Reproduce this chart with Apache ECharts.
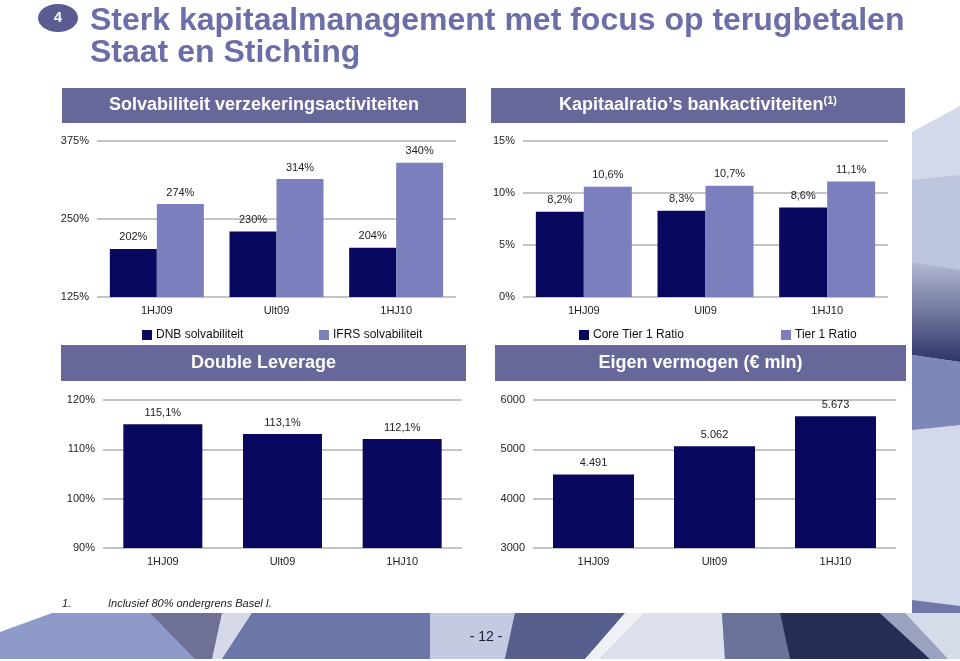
<!DOCTYPE html>
<html><head><meta charset="utf-8">
<script src="https://cdn.jsdelivr.net/npm/echarts@6/dist/echarts.min.js"></script>
<style>html,body{margin:0;padding:0;background:#fff;}#c{width:960px;height:661px;}</style>
</head><body><div id="c"></div>
<script>
const catsSolv = ['1HJ09', 'Ult09', '1HJ10'];
const catsBank = ['1HJ09', 'Ul09', '1HJ10'];
const catsLev = ['1HJ09', 'Ult09', '1HJ10'];
const catsEq = ['1HJ09', 'Ult09', '1HJ10'];
const dnbSolv = [202, 230, 204];
const ifrsSolv = [274, 314, 340];
const coreTier1 = [8.2, 8.3, 8.6];
const tier1 = [10.6, 10.7, 11.1];
const doubleLeverage = [115.1, 113.1, 112.1];
const equity = [4491, 5062, 5673];
const solvTicks = [125, 250, 375];
const bankTicks = [0, 5, 10, 15];
const levTicks = [90, 100, 110, 120];
const eqTicks = [3000, 4000, 5000, 6000];

const FONT = '"Liberation Sans", Arial, sans-serif';
const NAVY = '#08085e';
const LIGHT = '#7b7fbe';
const HEAD = '#67679a';

const pct0 = v => v + '%';
const pct1 = v => v.toFixed(1).replace('.', ',') + '%';
const thou = v => String(v).replace(/\B(?=(\d{3})+(?!\d))/g, '.');

function grid(l, t, w, h) { return { left: l, top: t, width: w, height: h, containLabel: false }; }
function xAx(i, cats) {
  return { type: 'category', gridIndex: i, data: cats,
    axisLine: { show: false }, axisTick: { show: false },
    axisLabel: { color: '#222', fontSize: 11, fontFamily: FONT, margin: 8 } };
}
function yAx(i, ticks, fmt) {
  return { type: 'value', gridIndex: i, min: ticks[0], max: ticks[ticks.length - 1],
    interval: ticks[1] - ticks[0],
    axisLine: { show: false }, axisTick: { show: false },
    axisLabel: { color: '#222', fontSize: 11, fontFamily: FONT, margin: 8, formatter: fmt },
    splitLine: { lineStyle: { color: '#c4c4c4', width: 2 } } };
}
function bar(name, i, data, color, width, fmt) {
  return { name, type: 'bar', xAxisIndex: i, yAxisIndex: i, data, barWidth: width, barGap: '0%',
    itemStyle: { color }, z: 3,
    label: { show: true, position: 'top', distance: 6, color: '#222', fontSize: 11, fontFamily: FONT, formatter: p => fmt(p.value) } };
}
function legend(name, left) {
  return { data: [name], left, top: 324, icon: 'rect', itemWidth: 10, itemHeight: 10, itemGap: 0,
    selectedMode: false, textStyle: { fontSize: 12, fontFamily: FONT, color: '#111', padding: [0, 0, 0, -1] } };
}
function header(x, y, w, h, text) {
  return [
    { type: 'rect', shape: { x, y, width: w, height: h }, style: { fill: HEAD }, z: 5 },
    { type: 'text', x: x + w / 2, y: y + h / 2, z: 6,
      style: { text, fill: '#fff', font: 'bold 18px ' + FONT, textAlign: 'center', textVerticalAlign: 'middle' } }
  ];
}
function poly(points, fill) { return { type: 'polygon', shape: { points }, style: { fill }, z: -10, silent: true }; }

const deco = [
  poly([[0, 632], [52, 613], [960, 613], [960, 659], [0, 659]], '#8e9bc8'),
  poly([[150, 613], [222, 613], [215, 659], [195, 659]], '#6e7094'),
  poly([[222, 613], [252, 613], [222, 659], [212, 659]], '#d6dae8'),
  poly([[252, 613], [430, 613], [430, 659], [222, 659]], '#6b76a9'),
  poly([[430, 613], [515, 613], [505, 659], [430, 659]], '#c3cae2'),
  poly([[515, 613], [625, 613], [585, 659], [505, 659]], '#565e8c'),
  poly([[625, 613], [645, 613], [600, 659], [585, 659]], '#eef0f6'),
  poly([[645, 613], [722, 613], [725, 659], [600, 659]], '#dde1ee'),
  poly([[722, 613], [780, 613], [790, 659], [725, 659]], '#6c7299'),
  poly([[780, 613], [880, 613], [930, 659], [790, 659]], '#262e58'),
  poly([[880, 613], [905, 613], [948, 659], [930, 659]], '#9aa2c0'),
  poly([[905, 613], [960, 613], [960, 659], [948, 659]], '#d6dbe9'),
  poly([[912, 132], [960, 106], [960, 613], [912, 613]], '#d3d9ea'),
  poly([[912, 180], [960, 175], [960, 270], [912, 262]], '#bcc4de'),
  { type: 'polygon', z: -10, silent: true, shape: { points: [[912, 262], [960, 270], [960, 362], [912, 355]] },
    style: { fill: new echarts.graphic.LinearGradient(0, 0, 0, 1, [{ offset: 0, color: '#b3b8d2' }, { offset: 1, color: '#2f356a' }]) } },
  poly([[912, 355], [960, 362], [960, 425], [912, 430]], '#7d87b8'),
  poly([[912, 600], [960, 606], [960, 613], [912, 613]], '#6f78a6')
];

const graphics = [
  ...deco,
  { type: 'ellipse', shape: { cx: 58, cy: 18, rx: 20, ry: 14 }, style: { fill: '#5b5b91' }, z: 5 },
  { type: 'text', x: 58, y: 18, z: 6, style: { text: '4', fill: '#fff', font: 'bold 15px ' + FONT, textAlign: 'center', textVerticalAlign: 'middle' } },
  { type: 'text', x: 90, y: 21, z: 6, style: { text: 'Sterk kapitaalmanagement met focus op terugbetalen', fill: '#6b6ea8', font: 'bold 32px ' + FONT, textVerticalAlign: 'middle' } },
  { type: 'text', x: 90, y: 53, z: 6, style: { text: 'Staat en Stichting', fill: '#6b6ea8', font: 'bold 32px ' + FONT, textVerticalAlign: 'middle' } },
  ...header(62, 88, 404, 35, 'Solvabiliteit verzekeringsactiviteiten'),
  { type: 'rect', shape: { x: 491, y: 88, width: 414, height: 35 }, style: { fill: HEAD }, z: 5 },
  { type: 'text', x: 698, y: 105, z: 6,
    style: { text: '{a|Kapitaalratio’s bankactiviteiten}{b|(1)}', textAlign: 'center', textVerticalAlign: 'middle',
      rich: { a: { fill: '#fff', font: 'bold 18px ' + FONT }, b: { fill: '#fff', font: 'bold 11px ' + FONT, padding: [0, 0, 9, 0] } } } },
  ...header(61, 345, 405, 36, 'Double Leverage'),
  ...header(495, 345, 411, 36, 'Eigen vermogen (€ mln)'),
  { type: 'text', x: 62, y: 604, z: 6, style: { text: '1.', fill: '#222', font: 'italic 11px ' + FONT, textVerticalAlign: 'middle' } },
  { type: 'text', x: 108, y: 604, z: 6, style: { text: 'Inclusief 80% ondergrens Basel I.', fill: '#222', font: 'italic 11px ' + FONT, textVerticalAlign: 'middle' } },
  { type: 'text', x: 486, y: 637, z: 6, style: { text: '- 12 -', fill: '#1a1a3a', font: '14px ' + FONT, textAlign: 'center', textVerticalAlign: 'middle' } }
];

const chart = echarts.init(document.getElementById('c'), null, { renderer: 'canvas' });
chart.setOption({
  animation: false,
  backgroundColor: '#fff',
  grid: [grid(97, 141, 359, 156), grid(523, 141, 365, 156), grid(103, 400, 359, 148), grid(533, 400, 363, 148)],
  xAxis: [xAx(0, catsSolv), xAx(1, catsBank), xAx(2, catsLev), xAx(3, catsEq)],
  yAxis: [yAx(0, solvTicks, pct0), yAx(1, bankTicks, pct0), yAx(2, levTicks, pct0), yAx(3, eqTicks, v => v)],
  legend: [legend('DNB solvabiliteit', 137), legend('IFRS solvabiliteit', 314), legend('Core Tier 1 Ratio', 574), legend('Tier 1 Ratio', 776)],
  series: [
    bar('DNB solvabiliteit', 0, dnbSolv, NAVY, 47, pct0),
    bar('IFRS solvabiliteit', 0, ifrsSolv, LIGHT, 47, pct0),
    bar('Core Tier 1 Ratio', 1, coreTier1, NAVY, 48, pct1),
    bar('Tier 1 Ratio', 1, tier1, LIGHT, 48, pct1),
    bar('Double Leverage', 2, doubleLeverage, NAVY, 79, pct1),
    bar('Eigen vermogen', 3, equity, NAVY, 81, thou)
  ],
  graphic: graphics
});
</script></body></html>
